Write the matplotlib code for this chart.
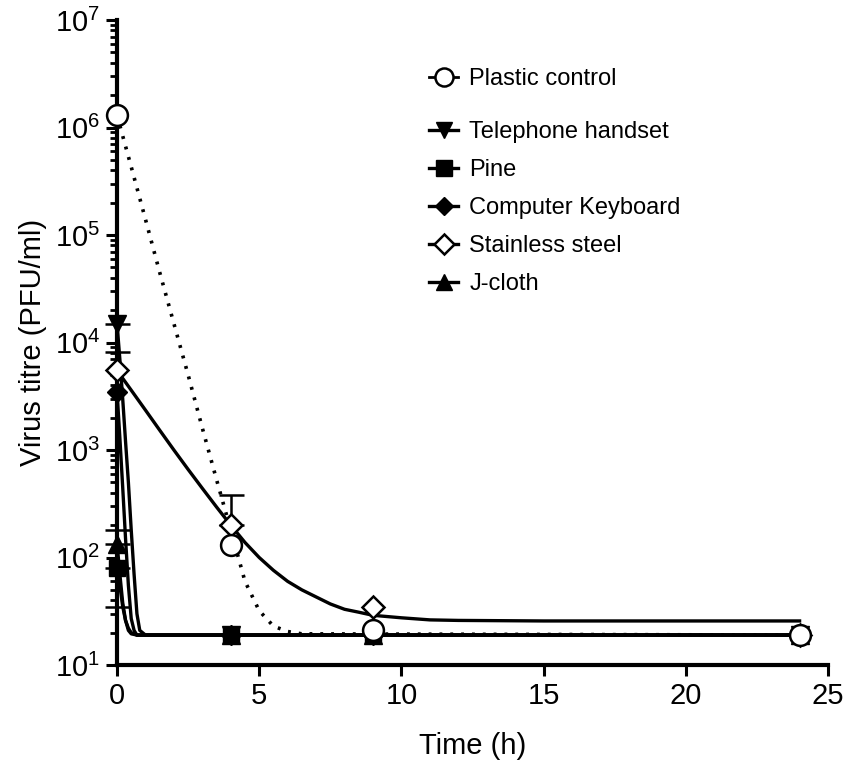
import numpy as np
import matplotlib
matplotlib.use("Agg")
from matplotlib import pyplot as plt
from matplotlib.lines import Line2D
from matplotlib.ticker import LogLocator, FixedLocator

plt.rcParams['font.family'] = ['Liberation Sans', 'DejaVu Sans']
plt.rcParams['mathtext.default'] = 'regular'

# measured points (time in h, titre in PFU/ml)
t_obs = [0, 4, 9, 24]
plastic = [1.3e6, 130, 21, 19]
telephone = [1.5e4, 19, 19, 19]
pine = [80, 19, 19, 19]
keyboard = [3.5e3, 19, 19, 19]
steel = [5.5e3, 200, 35, 19]
jcloth = [135, 19, 19, 19]

# fitted curves
plastic_fit_t = [0, 0.5, 1, 1.5, 2, 2.5, 3, 3.5, 4, 4.5, 5, 5.5, 6, 6.5, 24]
plastic_fit_y = [1.3e6, 4.3e5, 1.4e5, 4.5e4, 1.5e4, 5e3, 1.6e3, 530, 180, 60, 32, 23, 20.5, 19.5, 19]
steel_fit_t = [0, 0.5, 1, 1.5, 2, 2.5, 3, 3.5, 4, 4.5, 5, 5.5, 6, 6.5, 7, 7.5, 8, 8.5, 9,
               10, 11, 12, 15, 24]
steel_fit_y = [5500, 3600, 2350, 1530, 1000, 660, 440, 295, 200, 138, 100, 76, 60, 50, 43, 37,
               33, 31, 29, 27.5, 26.3, 26, 25.7, 25.7]
phone_fit_t = [0, 0.1, 0.2, 0.3, 0.4, 0.5, 0.6, 0.7, 0.8, 1.0, 24]
phone_fit_y = [1.5e4, 7e3, 3e3, 1.2e3, 500, 180, 70, 30, 21, 19, 19]
kb_fit_t = [0, 0.1, 0.2, 0.3, 0.4, 0.5, 0.6, 0.7, 24]
kb_fit_y = [3.5e3, 1.3e3, 450, 150, 55, 27, 21, 19, 19]
low_fit_t = [0, 0.1, 0.2, 0.3, 0.4, 0.5, 0.7, 24]
pine_fit_y = [85, 55, 35, 26, 22, 20, 19, 19]
jcloth_fit_y = [135, 70, 38, 26, 21, 19.5, 19, 19]

# error bars
steel_err_t = [4]
steel_err_y = [200]
steel_err_up = [180]
t0_err_y = [1.5e4, 135, 80]
t0_err_lo = [6900, 0, 45]
t0_err_up = [0, 45, 0]

fig = plt.figure(figsize=(8.51, 7.75), dpi=100)
ax = fig.add_axes([0.1375, 0.1419, 0.8355, 0.8323])

lw = 2.4
ax.plot(plastic_fit_t, plastic_fit_y, color='black', lw=2.6, linestyle=(0, (0.8, 2.2)), zorder=2)
ax.plot(steel_fit_t, steel_fit_y, color='black', lw=lw, zorder=2)
ax.plot(phone_fit_t, phone_fit_y, color='black', lw=lw, zorder=2)
ax.plot(kb_fit_t, kb_fit_y, color='black', lw=lw, zorder=2)
ax.plot(low_fit_t, pine_fit_y, color='black', lw=lw, zorder=2)
ax.plot(low_fit_t, jcloth_fit_y, color='black', lw=lw, zorder=2)

ax.errorbar(steel_err_t, steel_err_y, yerr=[[0], steel_err_up], fmt='none',
            ecolor='black', elinewidth=1.8, capsize=9, capthick=1.8, zorder=3)
ax.errorbar([0, 0, 0], t0_err_y, yerr=[t0_err_lo, t0_err_up], fmt='none',
            ecolor='black', elinewidth=1.8, capsize=9, capthick=1.8, zorder=3, clip_on=False)

ms = 13
kw = dict(linestyle='none', color='black', clip_on=False, zorder=4)
ax.plot(t_obs, telephone, marker='v', ms=ms, **kw)
ax.plot(t_obs, pine, marker='s', ms=12, **kw)
ax.plot(t_obs, keyboard, marker='D', ms=10, **kw)
ax.plot(t_obs, jcloth, marker='^', ms=ms, **kw)
ax.plot(t_obs, steel, marker='D', ms=11, mfc='white', mec='black', mew=1.8, **kw)
ax.plot(t_obs, plastic, marker='o', ms=15, mfc='white', mec='black', mew=1.8, **kw)

ax.set_yscale('log')
ax.set_ylim(10, 1e7)
ax.set_xlim(0, 25)
ax.set_xticks([0, 5, 10, 15, 20, 25])
ax.yaxis.set_major_locator(FixedLocator([1e1, 1e2, 1e3, 1e4, 1e5, 1e6, 1e7]))
ax.set_yticklabels([r'$10^{%d}$' % k for k in range(1, 8)])
ax.yaxis.set_minor_locator(LogLocator(base=10, subs=np.arange(2, 10), numticks=20))
ax.yaxis.set_minor_formatter(plt.NullFormatter())

for s in ['top', 'right']:
    ax.spines[s].set_visible(False)
for s in ['left', 'bottom']:
    ax.spines[s].set_linewidth(3)
ax.tick_params(axis='both', which='major', direction='out', length=8, width=2.2,
               labelsize=21, pad=4)
ax.tick_params(axis='y', which='minor', direction='out', length=5, width=2)

ax.set_xlabel('Time (h)', fontsize=21, labelpad=16)
ax.set_ylabel('Virus titre (PFU/ml)', fontsize=21, labelpad=6)

h_plastic = [Line2D([], [], color='black', lw=2, marker='o', ms=13, mfc='white', mew=1.8)]
leg1 = ax.legend(h_plastic, ['Plastic control'], loc='upper left',
                 bbox_to_anchor=(0.426, 0.94), frameon=False, fontsize=17,
                 handlelength=1.2, handletextpad=0.5, borderaxespad=0)
ax.add_artist(leg1)
h_rest = [
    Line2D([], [], color='black', lw=2.4, marker='v', ms=12),
    Line2D([], [], color='black', lw=2.4, marker='s', ms=11),
    Line2D([], [], color='black', lw=2.4, marker='D', ms=9),
    Line2D([], [], color='black', lw=2.4, marker='D', ms=10, mfc='white', mew=1.8),
    Line2D([], [], color='black', lw=2.4, marker='^', ms=12),
]
ax.legend(h_rest, ['Telephone handset', 'Pine', 'Computer Keyboard', 'Stainless steel', 'J-cloth'],
          loc='upper left', bbox_to_anchor=(0.426, 0.858), frameon=False, fontsize=17,
          handlelength=1.2, handletextpad=0.5, borderaxespad=0, labelspacing=0.68)

fig.savefig('out.png', dpi=100)
